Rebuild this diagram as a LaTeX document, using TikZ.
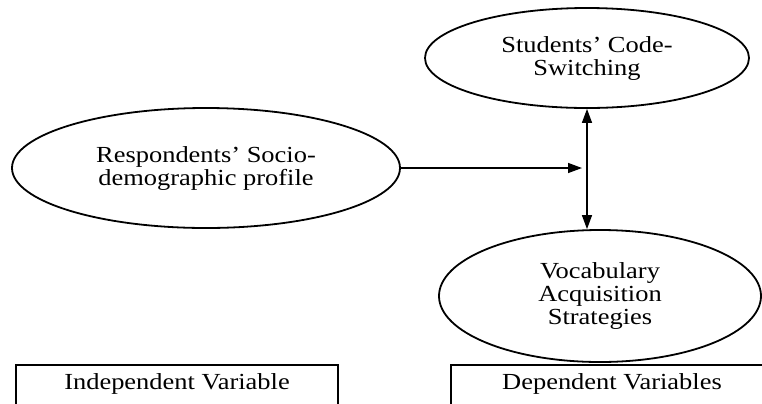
\documentclass[tikz,border=0pt]{standalone}
\usepackage{fontspec}
\setmainfont{Liberation Serif}[FakeStretch=1.15]
\usepackage{tikz}
\usetikzlibrary{positioning}
\usetikzlibrary{arrows.meta}
\usetikzlibrary{shapes.geometric,calc}

\begin{document}
\begin{tikzpicture}[x=0.5pt,y=-0.5pt]
	\useasboundingbox (0,0) rectangle (762,403);
	\clip (0,0) rectangle (762,403);

	\begin{scope}[every node/.style={ellipse,draw,line width=0.9pt,inner sep=0pt,align=center,
	              font=\fontsize{11.5}{11.5}\selectfont}]
	    \node (socio) [minimum width=194pt,minimum height=60pt] at (206,168) {Respondents' Socio-\\demographic profile};
	    \node (codesw) [minimum width=162pt,minimum height=50pt] at (587,58) {Students' Code-\\Switching};
	    \node (vocab) [minimum width=161pt,minimum height=66pt] at (600,296) {Vocabulary\\Acquisition\\Strategies};
	\end{scope}

	\begin{scope}[every node/.style={rectangle,draw,line width=0.9pt,anchor=north,minimum width=161pt,
	              inner ysep=5.5pt,text height=7pt,text depth=30pt,font=\fontsize{11.5}{11.5}\selectfont}]
	    \node (indep) at (177,364) {Independent Variable};
	    \node (dep) at (612,364) {Dependent Variables};
	\end{scope}

	\coordinate (mid) at (codesw.south |- socio.east);

	\begin{scope}[>={Triangle[length=7pt,width=5pt]},
	              every edge/.style={draw=black,line width=0.7pt}]
    	\path [<->] (codesw.south) edge (codesw.south |- vocab.north);
    	\path [->] (socio.east) edge[shorten >=2.5pt] (mid);
	\end{scope}
\end{tikzpicture}
\end{document}
